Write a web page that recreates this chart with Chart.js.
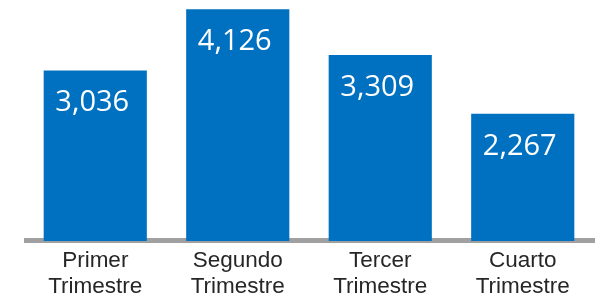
<!DOCTYPE html>
<html>
<head>
<meta charset="utf-8">
<script src="https://cdn.jsdelivr.net/npm/chart.js@4/dist/chart.umd.min.js"></script>
<style>
  html,body{margin:0;padding:0;background:#fff;}
  #wrap{width:595px;height:298px;}
</style>
</head>
<body>
<div id="wrap"><canvas id="chart" width="595" height="298"></canvas></div>
<script>
// data
const categories = [['Primer','Trimestre'], ['Segundo','Trimestre'], ['Tercer','Trimestre'], ['Cuarto','Trimestre']];
const values = [3036, 4126, 3309, 2267];
const yMax = 4290;

const barColor = '#0070C0';

// white value labels inside the top of each bar
const valueLabels = {
  id: 'valueLabels',
  afterDatasetsDraw(chart){
    const ctx = chart.ctx;
    const meta = chart.getDatasetMeta(0);
    ctx.save();
    ctx.fillStyle = '#ffffff';
    ctx.font = '29px "Open Sans", "Noto Sans", sans-serif';
    ctx.textAlign = 'center';
    ctx.textBaseline = 'alphabetic';
    meta.data.forEach((bar, i)=>{
      ctx.fillText(values[i].toLocaleString('en-US'), bar.x - 3, bar.y + 41);
    });
    ctx.restore();
  }
};

// grey base line drawn at the zero value
const baseLine = {
  id: 'baseLine',
  beforeDatasetsDraw(chart){
    const ctx = chart.ctx;
    const y0 = chart.scales.y.getPixelForValue(0);
    const area = chart.chartArea;
    ctx.save();
    ctx.fillStyle = '#a0a0a0';
    ctx.fillRect(area.left, y0 - 3, chart.width - area.left, 5);
    ctx.restore();
  }
};

new Chart(document.getElementById('chart').getContext('2d'), {
  type: 'bar',
  data: {
    labels: categories,
    datasets: [{
      data: values,
      backgroundColor: barColor,
      borderWidth: 0,
      categoryPercentage: 1,
      barPercentage: 0.724
    }]
  },
  options: {
    responsive: false,
    animation: false,
    devicePixelRatio: 1,
    layout: { padding: { left: 24, right: 1, top: 0, bottom: 0 } },
    plugins: { legend: { display: false }, tooltip: { enabled: false } },
    scales: {
      x: {
        grid: { display: false },
        border: { display: false },
        ticks: {
          color: '#262626',
          padding: -1,
          maxRotation: 0,
          autoSkip: false,
          font: { family: '"Liberation Sans", Arial, sans-serif', size: 22.5, lineHeight: 1.15 }
        },
        afterFit(scale){ scale.height = 57; }
      },
      y: {
        display: false,
        min: 0,
        max: yMax
      }
    }
  },
  plugins: [baseLine, valueLabels]
});
</script>
</body>
</html>
